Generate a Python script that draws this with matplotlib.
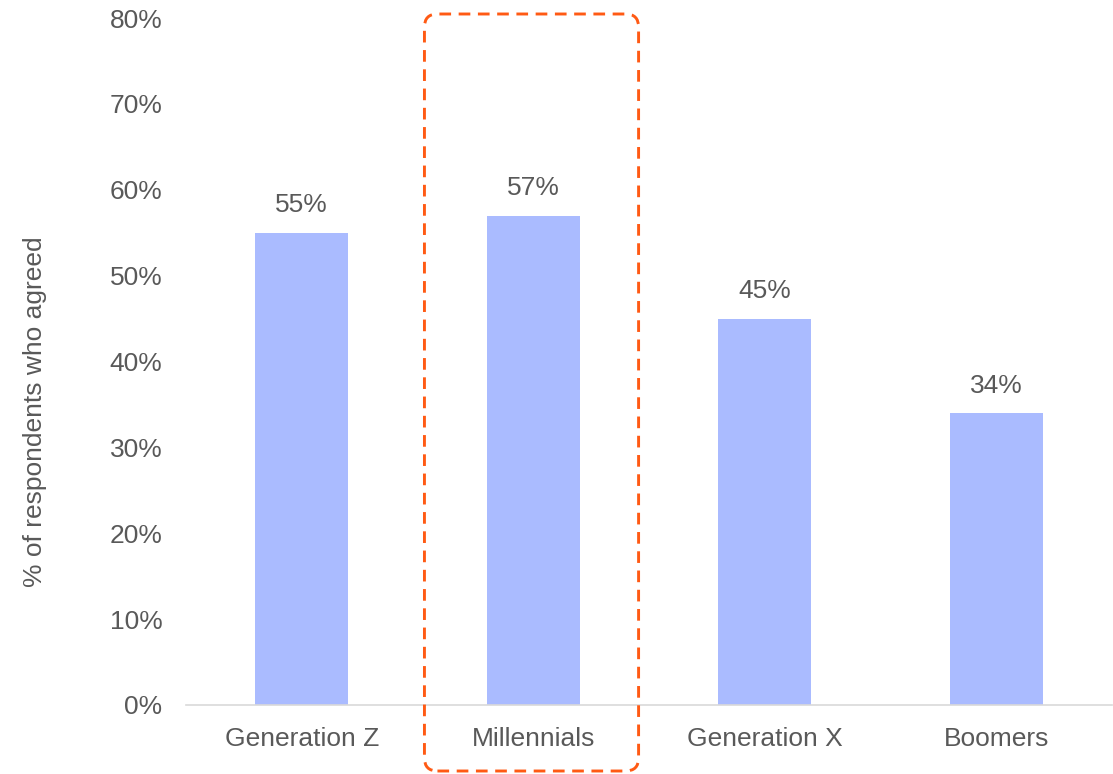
import matplotlib
matplotlib.use("Agg")
import matplotlib.pyplot as plt
from matplotlib.patches import FancyBboxPatch
from matplotlib.transforms import IdentityTransform

categories = ["Generation Z", "Millennials", "Generation X", "Boomers"]
agreed_pct = [55, 57, 45, 34]
y_ticks = [0, 10, 20, 30, 40, 50, 60, 70, 80]
y_tick_labels = [f"{t}%" for t in y_ticks]
highlight = "Millennials"

plt.rcParams["font.family"] = ["Liberation Sans", "DejaVu Sans"]
TEXT = "#595959"
BAR = "#AABBFF"
ACCENT = "#FF5A14"
FS = 19

W, H = 1113, 774
fig = plt.figure(figsize=(W / 100, H / 100), dpi=100)
ax = fig.add_axes([186 / W, (H - 705) / H, (1112 - 186) / W, (705 - 18) / H])

x = list(range(len(categories)))
ax.bar(x, agreed_pct, width=0.4, color=BAR, zorder=2)
for xi, v in zip(x, agreed_pct):
    ax.annotate(f"{v}%", (xi, v), xytext=(0, 11), textcoords="offset points",
                ha="center", va="bottom", fontsize=FS, color=TEXT)

ax.set_xlim(-0.5, len(categories) - 0.5)
ax.set_ylim(0, 80)
ax.set_yticks(y_ticks)
ax.set_yticklabels(y_tick_labels)
ax.set_xticks(x)
ax.set_xticklabels(categories)
ax.tick_params(axis="both", length=0, labelsize=FS, labelcolor=TEXT)
ax.tick_params(axis="y", pad=17)
ax.tick_params(axis="x", pad=15.5)
for side in ("top", "right", "left"):
    ax.spines[side].set_visible(False)
ax.spines["bottom"].set_color("#D9D9D9")
ax.spines["bottom"].set_linewidth(1.2)

fig.text(35 / W, 1 - 412 / H, "% of respondents who agreed", rotation=90,
         ha="center", va="center", fontsize=FS, color=TEXT)

# dashed rounded frame around the highlighted generation
fig.canvas.draw()
hi = categories.index(highlight)
x0 = ax.transData.transform((hi - 0.47, 0))[0]
x1 = ax.transData.transform((hi + 0.455, 0))[0]
y0, y1 = H - 771, H - 14
frame = FancyBboxPatch((x0, y0), x1 - x0, y1 - y0,
                       boxstyle="round,pad=0,rounding_size=13",
                       transform=IdentityTransform(), fill=False,
                       edgecolor=ACCENT, linewidth=2.1, linestyle=(0, (4, 2.6)),
                       clip_on=False)
fig.patches.append(frame)

fig.savefig("out.png", dpi=100)
